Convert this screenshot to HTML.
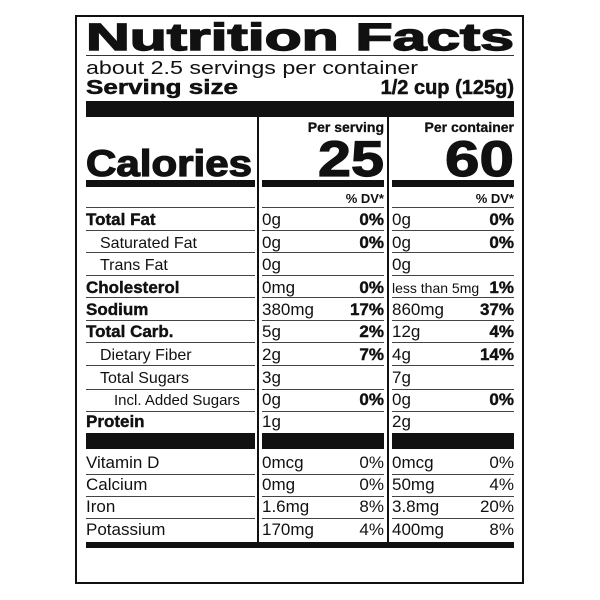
<!DOCTYPE html>
<html><head><style>
html,body{margin:0;padding:0;background:#fff;}
svg{display:block;}
text{font-family:"Liberation Sans",Arial,sans-serif;fill:#111;}
.b{font-weight:bold;}
</style></head><body>
<svg width="600" height="600" viewBox="0 0 600 600" xmlns="http://www.w3.org/2000/svg">
<rect x="76" y="16" width="447" height="567" fill="none" stroke="#111" stroke-width="2"/>
<text x="86" y="50" class="b" font-size="38" textLength="428" lengthAdjust="spacingAndGlyphs" stroke="#111" stroke-width="1.4">Nutrition Facts</text>
<rect x="86" y="55" width="428" height="1" fill="#333"/>
<text x="86" y="74" font-size="18" textLength="332" lengthAdjust="spacingAndGlyphs">about 2.5 servings per container</text>
<text x="86" y="94" class="b" font-size="20" stroke="#111" stroke-width="0.5" textLength="152" lengthAdjust="spacingAndGlyphs">Serving size</text>
<text x="514" y="94" class="b" font-size="20" text-anchor="end" stroke="#111" stroke-width="0.5">1/2 cup (125g)</text>
<rect x="86" y="101" width="428" height="16" fill="#111"/>
<rect x="257" y="117" width="2" height="425" fill="#111"/>
<rect x="387" y="117" width="2" height="425" fill="#111"/>
<text x="384" y="132" class="b" font-size="14" text-anchor="end" stroke="#111" stroke-width="0.3">Per serving</text>
<text x="514" y="132" class="b" font-size="14" text-anchor="end" stroke="#111" stroke-width="0.3">Per container</text>
<text x="86" y="176" class="b" font-size="37" stroke="#111" stroke-width="1.3" textLength="166" lengthAdjust="spacingAndGlyphs">Calories</text>
<text x="318" y="176" class="b" font-size="50" stroke="#111" stroke-width="1.2" textLength="66" lengthAdjust="spacingAndGlyphs">25</text>
<text x="445" y="176" class="b" font-size="50" stroke="#111" stroke-width="1.2" textLength="69" lengthAdjust="spacingAndGlyphs">60</text>
<rect x="86" y="180" width="169" height="7" fill="#111"/>
<rect x="262" y="180" width="122" height="7" fill="#111"/>
<rect x="392" y="180" width="122" height="7" fill="#111"/>
<text x="384" y="203" class="b" font-size="13" text-anchor="end">% DV*</text>
<text x="514" y="203" class="b" font-size="13" text-anchor="end">% DV*</text>
<g fill="#444">
<rect x="86" y="207" width="169" height="1"/><rect x="262" y="207" width="122" height="1"/><rect x="392" y="207" width="122" height="1"/>
<rect x="86" y="230" width="169" height="1"/><rect x="262" y="230" width="122" height="1"/><rect x="392" y="230" width="122" height="1"/>
<rect x="86" y="252" width="169" height="1"/><rect x="262" y="252" width="122" height="1"/><rect x="392" y="252" width="122" height="1"/>
<rect x="86" y="275" width="169" height="1"/><rect x="262" y="275" width="122" height="1"/><rect x="392" y="275" width="122" height="1"/>
<rect x="86" y="297" width="169" height="1"/><rect x="262" y="297" width="122" height="1"/><rect x="392" y="297" width="122" height="1"/>
<rect x="86" y="320" width="169" height="1"/><rect x="262" y="320" width="122" height="1"/><rect x="392" y="320" width="122" height="1"/>
<rect x="86" y="342" width="169" height="1"/><rect x="262" y="342" width="122" height="1"/><rect x="392" y="342" width="122" height="1"/>
<rect x="86" y="365" width="169" height="1"/><rect x="262" y="365" width="122" height="1"/><rect x="392" y="365" width="122" height="1"/>
<rect x="86" y="389" width="169" height="1"/><rect x="262" y="389" width="122" height="1"/><rect x="392" y="389" width="122" height="1"/>
<rect x="86" y="411" width="169" height="1"/><rect x="262" y="411" width="122" height="1"/><rect x="392" y="411" width="122" height="1"/>
<rect x="86" y="474" width="169" height="1"/><rect x="262" y="474" width="122" height="1"/><rect x="392" y="474" width="122" height="1"/>
<rect x="86" y="496" width="169" height="1"/><rect x="262" y="496" width="122" height="1"/><rect x="392" y="496" width="122" height="1"/>
<rect x="86" y="518" width="169" height="1"/><rect x="262" y="518" width="122" height="1"/><rect x="392" y="518" width="122" height="1"/>
</g>
<rect x="86" y="433" width="169" height="16" fill="#111"/>
<rect x="262" y="433" width="122" height="16" fill="#111"/>
<rect x="392" y="433" width="122" height="16" fill="#111"/>
<rect x="86" y="542" width="428" height="6" fill="#111"/>
<g font-size="17">
<text x="86" y="225" class="b" stroke="#111" stroke-width="0.4">Total Fat</text>
<text x="262" y="225">0g</text><text x="384" y="225" class="b" text-anchor="end" stroke="#111" stroke-width="0.4">0%</text>
<text x="392" y="225">0g</text><text x="514" y="225" class="b" text-anchor="end" stroke="#111" stroke-width="0.4">0%</text>
<text x="100" y="248" font-size="16">Saturated Fat</text>
<text x="262" y="248">0g</text><text x="384" y="248" class="b" text-anchor="end" stroke="#111" stroke-width="0.4">0%</text>
<text x="392" y="248">0g</text><text x="514" y="248" class="b" text-anchor="end" stroke="#111" stroke-width="0.4">0%</text>
<text x="100" y="270" font-size="16">Trans Fat</text>
<text x="262" y="270">0g</text><text x="392" y="270">0g</text>
<text x="86" y="293" class="b" stroke="#111" stroke-width="0.4">Cholesterol</text>
<text x="262" y="293">0mg</text><text x="384" y="293" class="b" text-anchor="end" stroke="#111" stroke-width="0.4">0%</text>
<text x="392" y="293" font-size="14">less than 5mg</text><text x="514" y="293" class="b" text-anchor="end" stroke="#111" stroke-width="0.4">1%</text>
<text x="86" y="315" class="b" stroke="#111" stroke-width="0.4">Sodium</text>
<text x="262" y="315">380mg</text><text x="384" y="315" class="b" text-anchor="end" stroke="#111" stroke-width="0.4">17%</text>
<text x="392" y="315">860mg</text><text x="514" y="315" class="b" text-anchor="end" stroke="#111" stroke-width="0.4">37%</text>
<text x="86" y="337" class="b" stroke="#111" stroke-width="0.4">Total Carb.</text>
<text x="262" y="337">5g</text><text x="384" y="337" class="b" text-anchor="end" stroke="#111" stroke-width="0.4">2%</text>
<text x="392" y="337">12g</text><text x="514" y="337" class="b" text-anchor="end" stroke="#111" stroke-width="0.4">4%</text>
<text x="100" y="360" font-size="16">Dietary Fiber</text>
<text x="262" y="360">2g</text><text x="384" y="360" class="b" text-anchor="end" stroke="#111" stroke-width="0.4">7%</text>
<text x="392" y="360">4g</text><text x="514" y="360" class="b" text-anchor="end" stroke="#111" stroke-width="0.4">14%</text>
<text x="100" y="383" font-size="16">Total Sugars</text>
<text x="262" y="383">3g</text><text x="392" y="383">7g</text>
<text x="114" y="405" font-size="15">Incl. Added Sugars</text>
<text x="262" y="405">0g</text><text x="384" y="405" class="b" text-anchor="end" stroke="#111" stroke-width="0.4">0%</text>
<text x="392" y="405">0g</text><text x="514" y="405" class="b" text-anchor="end" stroke="#111" stroke-width="0.4">0%</text>
<text x="86" y="427" class="b" stroke="#111" stroke-width="0.4">Protein</text>
<text x="262" y="427">1g</text><text x="392" y="427">2g</text>
<text x="86" y="468">Vitamin D</text>
<text x="262" y="468">0mcg</text><text x="384" y="468" text-anchor="end">0%</text>
<text x="392" y="468">0mcg</text><text x="514" y="468" text-anchor="end">0%</text>
<text x="86" y="490">Calcium</text>
<text x="262" y="490">0mg</text><text x="384" y="490" text-anchor="end">0%</text>
<text x="392" y="490">50mg</text><text x="514" y="490" text-anchor="end">4%</text>
<text x="86" y="512">Iron</text>
<text x="262" y="512">1.6mg</text><text x="384" y="512" text-anchor="end">8%</text>
<text x="392" y="512">3.8mg</text><text x="514" y="512" text-anchor="end">20%</text>
<text x="86" y="535">Potassium</text>
<text x="262" y="535">170mg</text><text x="384" y="535" text-anchor="end">4%</text>
<text x="392" y="535">400mg</text><text x="514" y="535" text-anchor="end">8%</text>
</g>
</svg>
</body></html>
